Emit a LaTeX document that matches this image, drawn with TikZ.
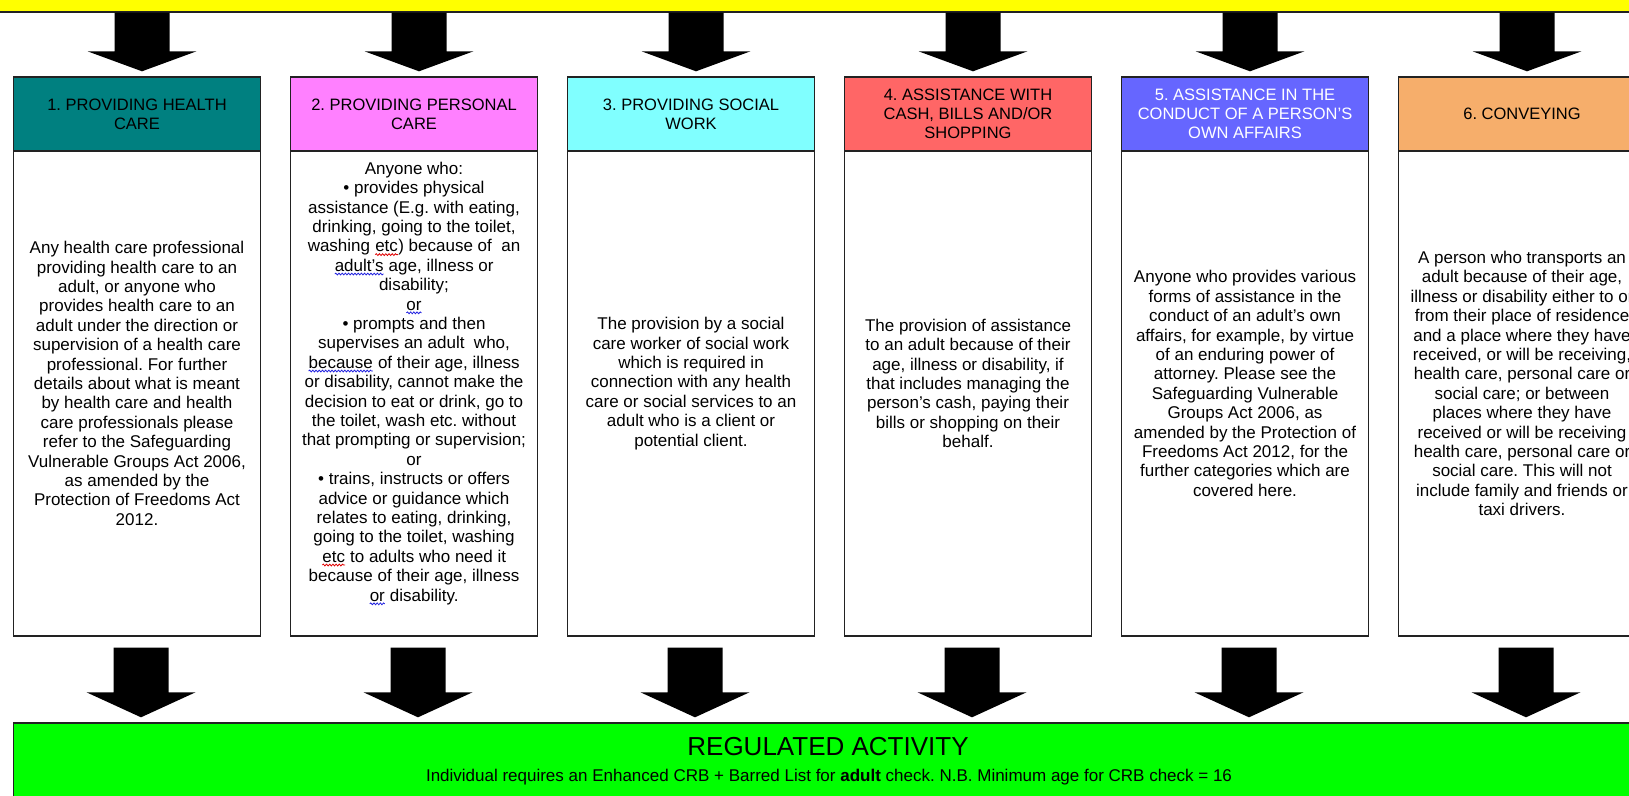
\documentclass[tikz,border=0pt]{standalone}
\usepackage{fontspec}
\setmainfont{Liberation Sans}
\usetikzlibrary{calc,decorations.pathmorphing}
\newcommand\wavy[2]{\tikz[baseline=(w.base)]{\node[inner sep=0pt, outer sep=0pt, anchor=base, draw=none, fill=none] (w) {#2}; \draw[#1, line width=0.8pt, decorate, decoration={snake, amplitude=0.9pt, segment length=3.2pt}] ([yshift=-2.8pt]w.base west) -- ([yshift=-2.8pt]w.base east);}}
\definecolor{hteal}{HTML}{008080}
\definecolor{hpink}{HTML}{FF80FF}
\definecolor{hcyan}{HTML}{80FFFF}
\definecolor{hsalmon}{HTML}{FF6666}
\definecolor{hblue}{HTML}{6666FF}
\definecolor{horange}{HTML}{F6AE6B}
\definecolor{hgreen}{HTML}{00FF00}
\definecolor{hyellow}{HTML}{FFFF00}
\definecolor{edge}{HTML}{222222}
\definecolor{wavered}{HTML}{E00000}
\definecolor{waveblue}{HTML}{2020E0}
\begin{document}
\frenchspacing
\begin{tikzpicture}[x=1pt,y=-1pt,
  hdr/.style={draw=edge, line width=1.4pt, minimum width=247pt, minimum height=74pt, inner sep=0pt, align=center, font=\fontsize{16.5}{19}\selectfont},
  bodybox/.style={draw=edge, line width=1.4pt, fill=white, minimum width=247pt, minimum height=485pt, inner sep=0pt},
  bodytext/.style={align=center, inner sep=0pt, font=\fontsize{17}{19.4}\selectfont},
  bigarrow/.style={fill=black},
  bar/.style={draw=edge, line width=1.4pt, inner sep=0pt},
]
\useasboundingbox (0,0) rectangle (1629,795);
\clip (0,0) rectangle (1629,795);

% top yellow bar
\node[bar, fill=hyellow, minimum width=1700pt, minimum height=60pt] (top) at (814.5,-18) {};

% bodies
\foreach \i in {1,...,6}{
  \node[bodybox] (b\i) at ({137+277*(\i-1)},393.5) {};
}
% headers
\node[hdr, fill=hteal]   (h1) at (137,114) {1. PROVIDING HEALTH\\CARE};
\node[hdr, fill=hpink]   (h2) at (414,114) {2. PROVIDING PERSONAL\\CARE};
\node[hdr, fill=hcyan]   (h3) at (691,114) {3. PROVIDING SOCIAL\\WORK};
\node[hdr, fill=hsalmon] (h4) at (968,114) {4. ASSISTANCE WITH\\CASH, BILLS AND/OR\\SHOPPING};
\node[hdr, fill=hblue, text=white] (h5) at (1245,114) {5. ASSISTANCE IN THE\\CONDUCT OF A PERSON'S\\OWN AFFAIRS};
\node[hdr, fill=horange] (h6) at (1522,114) {6. CONVEYING};

% body texts
\node[bodytext] (t1) at ($(b1.center)+(0,-10)$) {Any health care professional\\providing health care to an\\adult, or anyone who\\provides health care to an\\adult under the direction or\\supervision of a health care\\professional. For further\\details about what is meant\\by health care and health\\care professionals please\\refer to the Safeguarding\\Vulnerable Groups Act 2006,\\as amended by the\\Protection of Freedoms Act\\2012.};

\node[bodytext] (t2) at ($(b2.center)+(0,-10)$) {Anyone who:\\\textbullet\ provides physical\\assistance (E.g. with eating,\\drinking, going to the toilet,\\washing \wavy{wavered}{etc}) because of\ \ an\\\wavy{waveblue}{adult's} age, illness or\\disability;\\\wavy{waveblue}{or}\\\textbullet\ prompts and then\\supervises an adult\ \ who,\\\wavy{waveblue}{because} of their age, illness\\or disability, cannot make the\\decision to eat or drink, go to\\the toilet, wash etc. without\\that prompting or supervision;\\or\\\textbullet\ trains, instructs or offers\\advice or guidance which\\relates to eating, drinking,\\going to the toilet, washing\\\wavy{wavered}{etc} to adults who need it\\because of their age, illness\\\wavy{waveblue}{or} disability.};

\node[bodytext] (t3) at ($(b3.center)+(0,-10)$) {The provision by a social\\care worker of social work\\which is required in\\connection with any health\\care or social services to an\\adult who is a client or\\potential client.};

\node[bodytext] (t4) at ($(b4.center)+(0,-10)$) {The provision of assistance\\to an adult because of their\\age, illness or disability, if\\that includes managing the\\person's cash, paying their\\bills or shopping on their\\behalf.};

\node[bodytext] (t5) at ($(b5.center)+(0,-10)$) {Anyone who provides various\\forms of assistance in the\\conduct of an adult's own\\affairs, for example, by virtue\\of an enduring power of\\attorney. Please see the\\Safeguarding Vulnerable\\Groups Act 2006, as\\amended by the Protection of\\Freedoms Act 2012, for the\\further categories which are\\covered here.};

\node[bodytext] (t6) at ($(b6.center)+(0,-10)$) {A person who transports an\\adult because of their age,\\illness or disability either to or\\from their place of residence\\and a place where they have\\received, or will be receiving,\\health care, personal care or\\social care; or between\\places where they have\\received or will be receiving\\health care, personal care or\\social care. This will not\\include family and friends or\\taxi drivers.};

% green regulated activity box
\node[bar, fill=hgreen, minimum width=1629pt, minimum height=100pt] (reg) at (828,773) {};
\node[inner sep=0pt, font=\fontsize{26}{30}\selectfont] (regt) at (828,747) {REGULATED ACTIVITY};
\node[inner sep=0pt, font=\fontsize{17}{20}\selectfont] (regs) at (829,777) {Individual requires an Enhanced CRB + Barred List for \textbf{adult} check. N.B. Minimum age for CRB check = 16};

% arrows from the top bar to the headers
\foreach \i in {1,...,6}{
  \fill[bigarrow] let \p1=(h\i.north), \p2=(top.south) in
    (\x1+5pt-27.5pt,\y2) -- (\x1+5pt+27.5pt,\y2) -- (\x1+5pt+27.5pt,\y1+25pt)
    -- (\x1+5pt+54.5pt,\y1+25pt) -- (\x1+5pt,\y1+5pt) -- (\x1+5pt-54.5pt,\y1+25pt)
    -- (\x1+5pt-27.5pt,\y1+25pt) -- cycle;
}
% arrows from the bodies to the green box
\foreach \i in {1,...,6}{
  \fill[bigarrow] let \p1=(b\i.south), \p2=(reg.north) in
    (\x1+4pt-27.5pt,\y1-11pt) -- (\x1+4pt+27.5pt,\y1-11pt) -- (\x1+4pt+27.5pt,\y2+30pt)
    -- (\x1+4pt+54.5pt,\y2+30pt) -- (\x1+4pt,\y2+5pt) -- (\x1+4pt-54.5pt,\y2+30pt)
    -- (\x1+4pt-27.5pt,\y2+30pt) -- cycle;
}
\end{tikzpicture}
\end{document}
